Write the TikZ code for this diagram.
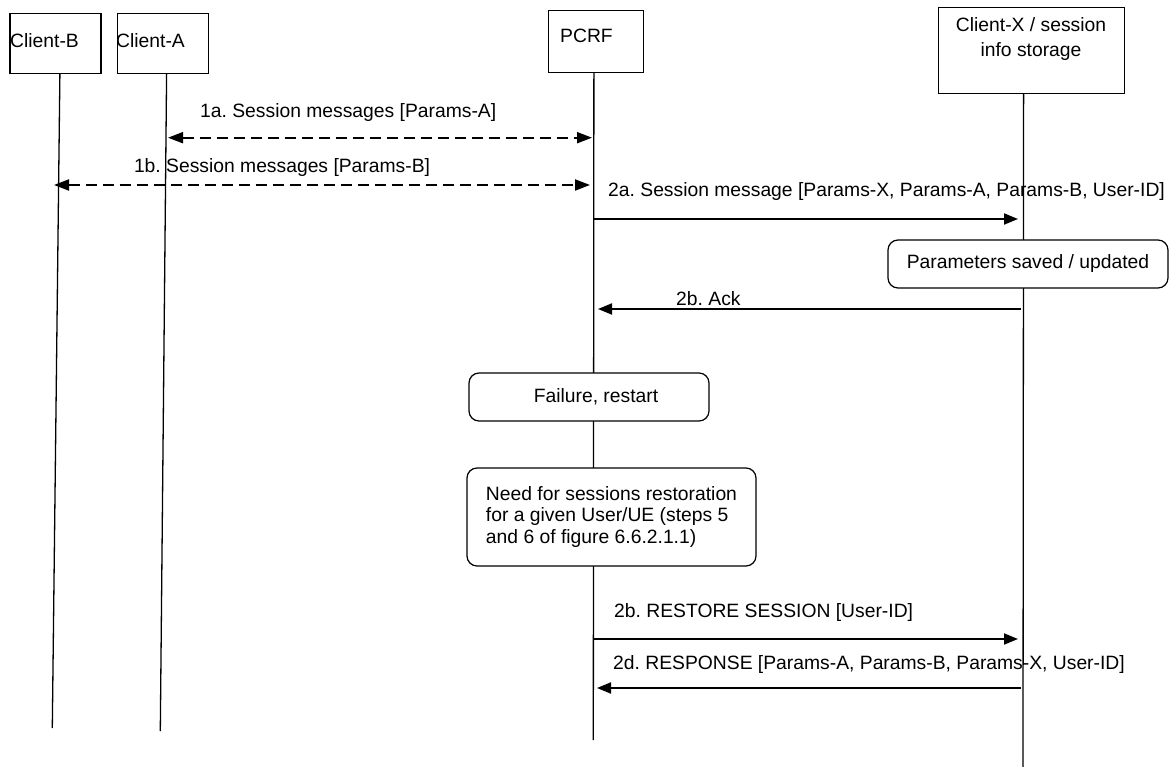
\documentclass[tikz,border=0pt]{standalone}
\usepackage{fontspec}
\setmainfont{Liberation Sans}
\usetikzlibrary{arrows.meta}
\frenchspacing
\begin{document}
\begin{tikzpicture}[x=1pt,y=-1pt,
  every node/.style={font=\fontsize{19.3}{22}\selectfont, inner sep=0pt},
  actor/.style={draw, line width=1.2pt, fill=white, anchor=north west},
  note/.style={draw, line width=1.2pt, fill=white, rounded corners=10pt},
  lifeline/.style={line width=1.3pt},
  msg/.style={line width=2pt, -{Triangle[length=14pt,width=11pt]}},
  dmsg/.style={line width=2pt, dash pattern=on 11pt off 6pt,
    {Triangle[length=15pt,width=11pt]}-{Triangle[length=15pt,width=11pt]}},
  lbl/.style={anchor=west}
]
\useasboundingbox (0,0) rectangle (1171,767);

% participants
\node[actor, minimum width=91pt, minimum height=60pt] (cB) at (9.3,13) {};
\node[actor, minimum width=91pt, minimum height=60pt] (cA) at (117,13) {};
\node[actor, minimum width=95pt, minimum height=62pt] (pcrf) at (547.7,10) {};
\node[actor, minimum width=186pt, minimum height=86pt] (cX) at (938,7) {};
\node[lbl] (cBlabel) at (10,40.7) {Client-B};
\node[lbl] (cAlabel) at (116,41) {Client-A};
\node[lbl] (pcrflabel) at (560,36) {PCRF};
\node[align=center, font=\fontsize{19.3}{25}\selectfont] (cXlabel) at (1031,39.2)
  {Client-X / session\\info storage};

% lifelines
\coordinate (cBend) at (52.3,728);
\coordinate (cAend) at (160.3,731);
\coordinate (pcrfend) at (593.3,740);
\coordinate (cXend) at (1023,767);
\draw[lifeline] ([xshift=4.5pt]cB.south) -- (cBend);
\draw[lifeline] ([xshift=3.5pt]cA.south) -- (cAend);
\draw[lifeline] ([xshift=-1.9pt]pcrf.south) -- (pcrfend);
\draw[lifeline] ([xshift=-8pt]cX.south) -- (cXend);

% 1a / 1b
\coordinate (m1aL) at (168,137.7);
\coordinate (m1aR) at (592,137.7);
\draw[dmsg] (m1aL) -- (m1aR);
\node[lbl] (l1a) at (200,112.7) {1a. Session messages [Params-A]};
\coordinate (m1bL) at (54,185);
\coordinate (m1bR) at (590,185);
\draw[dmsg] (m1bL) -- (m1bR);
\node[lbl] (l1b) at (133.8,168) {1b. Session messages [Params-B]};

% 2a
\coordinate (m2aP) at (593.3,219);
\coordinate (m2aX) at (1018,219);
\draw[msg] (m2aP) -- (m2aX);
\node[lbl] (l2a) at (608,192) {2a. Session message [Params-X, Params-A, Params-B, User-ID]};

\node[note, minimum width=280pt, minimum height=48pt] (saved) at (1028,264)
  {Parameters saved / updated};

% 2b ack
\coordinate (m2bX) at (1021,309);
\coordinate (m2bP) at (598,309);
\draw[msg] (m2bX) -- (m2bP);
\node[lbl] (l2b) at (676,299) {2b. Ack};

\node[note, minimum width=240pt, minimum height=48pt] (fail) at (589,397)
  {\hspace{14pt}Failure, restart};
\node[note, minimum width=289pt, minimum height=98pt, align=left,
  font=\fontsize{19.3}{21.7}\selectfont] (need) at (611.5,517)
  {Need for sessions restoration\\for a given User/UE (steps 5\\and 6 of figure 6.6.2.1.1)};

% restore
\coordinate (m2cP) at (593.3,639);
\coordinate (m2cX) at (1018,639);
\draw[msg] (m2cP) -- (m2cX);
\node[lbl] (l2c) at (614,613) {2b. RESTORE SESSION [User-ID]};

% response
\coordinate (m2dX) at (1021,688);
\coordinate (m2dP) at (597,688);
\draw[msg] (m2dX) -- (m2dP);
\node[lbl] (l2d) at (613,665) {2d. RESPONSE [Params-A, Params-B, Params-X, User-ID]};
\end{tikzpicture}
\end{document}
